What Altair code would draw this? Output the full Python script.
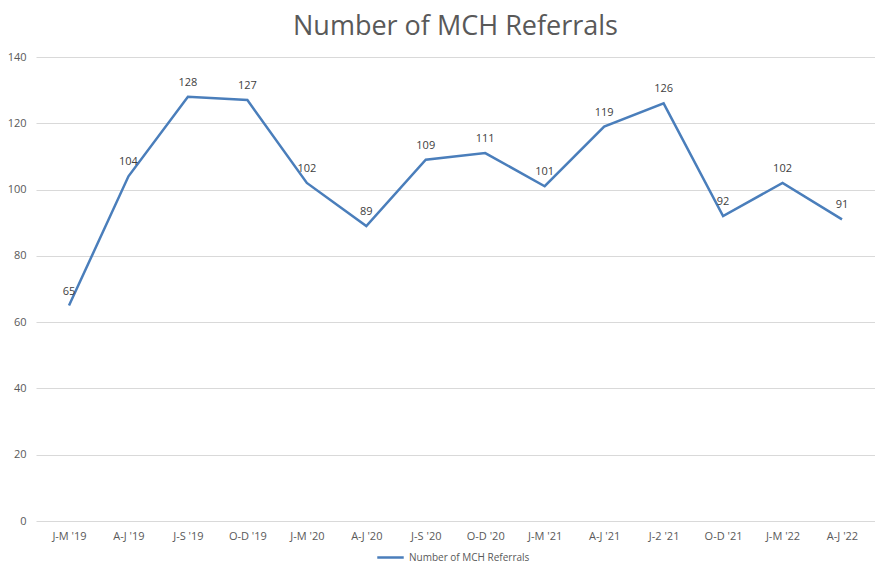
import altair as alt
import pandas as pd

quarters = ["J-M '19", "A-J '19", "J-S '19", "O-D '19", "J-M '20", "A-J '20", "J-S '20",
            "O-D '20", "J-M '21", "A-J '21", "J-2 '21", "O-D '21", "J-M '22", "A-J '22"]
referrals = [65, 104, 128, 127, 102, 89, 109, 111, 101, 119, 126, 92, 102, 91]
series_name = "Number of MCH Referrals"

df = pd.DataFrame({"quarter": quarters, "value": referrals, "series": series_name})

FONT = "Open Sans"
x = alt.X("quarter:N", sort=quarters, title=None,
          scale=alt.Scale(type="point", padding=0.555),
          axis=alt.Axis(labelAngle=0, labelColor="#595959", labelFontSize=11, labelFont=FONT,
                        domain=False, ticks=False, labelPadding=9, grid=False))
y = alt.Y("value:Q", title=None,
          scale=alt.Scale(domain=[0, 140], nice=False),
          axis=alt.Axis(values=list(range(0, 141, 20)), labelColor="#595959", labelFontSize=11,
                        labelFont=FONT, domain=False, ticks=False, labelPadding=10,
                        gridColor="#d9d9d9", gridWidth=1))

line = alt.Chart(df).mark_line(strokeWidth=2.5).encode(
    x=x, y=y,
    color=alt.Color("series:N", scale=alt.Scale(range=["#4a7ebb"]),
                    legend=alt.Legend(title=None, orient="none", legendX=340, legendY=486,
                                      symbolType="stroke", symbolSize=700, symbolStrokeWidth=2.5,
                                      labelFont=FONT, labelFontSize=10, labelColor="#595959"))
)
labels = alt.Chart(df).mark_text(dy=-14, fontSize=11, font=FONT, color="#404040").encode(
    x=x, y=y, text="value:Q")

chart = (line + labels).properties(
    width=839, height=464,
    title=alt.TitleParams(series_name, font=FONT, fontSize=27, fontWeight="normal",
                          color="#595959", anchor="middle", offset=10),
    autosize=alt.AutoSizeParams(type="none"),
    padding={"left": 28, "top": 49, "right": 0, "bottom": 46},
).configure_view(stroke=None)

chart.save("out.html", embed_options={"renderer": "svg", "actions": False})
